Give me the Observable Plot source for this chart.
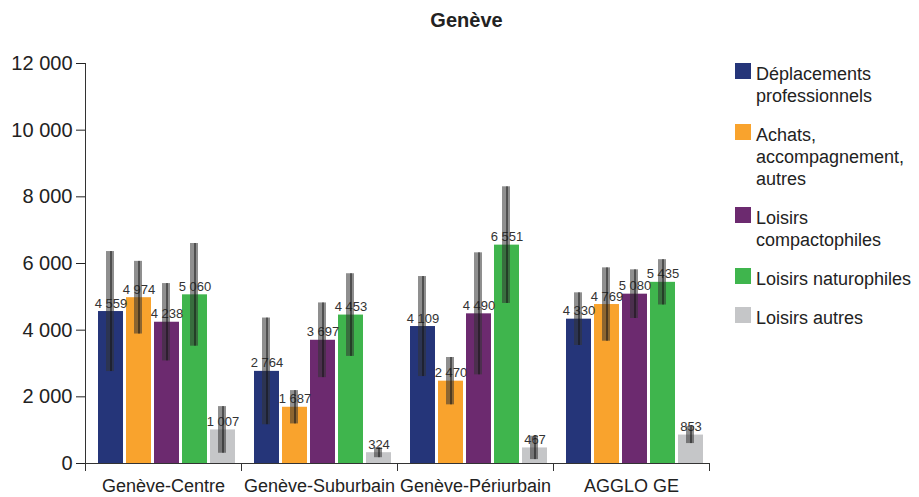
<!DOCTYPE html>
<html lang="fr">
<head>
<meta charset="utf-8">
<script src="https://cdn.jsdelivr.net/npm/d3@7"></script>
<script src="https://cdn.jsdelivr.net/npm/@observablehq/plot@0.6"></script>
<style>
  html, body { margin: 0; padding: 0; background: #fff; }
  body { font-family: "Liberation Sans", Arial, sans-serif; color: #222; }
  #wrap { position: relative; width: 919px; height: 497px; overflow: hidden; }
  #title { position: absolute; top: 10px; left: 7px; width: 919px; text-align: center;
           font-weight: bold; font-size: 20px; line-height: 1; }
  #legend { position: absolute; left: 735px; top: 63px; width: 184px; }
  .item { position: relative; padding-left: 21px; margin-bottom: 17px;
          font-size: 18px; line-height: 22px; white-space: pre-line; }
  .swatch { position: absolute; left: 0; top: 0; width: 16px; height: 16px; }
</style>
</head>
<body>
<div id="wrap">
  <div id="title">Genève</div>
  <div id="legend"></div>
</div>
<script>
// Territoires (groupes de barres)
const groups = ["Genève-Centre", "Genève-Suburbain", "Genève-Périurbain", "AGGLO GE"];

// Motifs de déplacement
const series = [
  "Déplacements professionnels",
  "Achats, accompagnement, autres",
  "Loisirs compactophiles",
  "Loisirs naturophiles",
  "Loisirs autres"
];
const legendLabels = [
  "Déplacements\nprofessionnels",
  "Achats,\naccompagnement,\nautres",
  "Loisirs\ncompactophiles",
  "Loisirs naturophiles",
  "Loisirs autres"
];
const colors = ["#253579", "#f9a32d", "#6c2a6f", "#3fb54d", "#c5c6c8"];

// Valeurs par motif, dans l'ordre des territoires
const valDeplacements = [4559, 2764, 4109, 4330];
const valAchats       = [4974, 1687, 2470, 4769];
const valCompacto     = [4238, 3697, 4490, 5080];
const valNaturo       = [5060, 4453, 6551, 5435];
const valAutres       = [1007, 324, 467, 853];

// Marges d'erreur (±) par motif
const errDeplacements = [1800, 1600, 1500, 790];
const errAchats       = [1090, 500, 710, 1100];
const errCompacto     = [1160, 1120, 1830, 730];
const errNaturo       = [1540, 1240, 1750, 680];
const errAutres       = [700, 150, 350, 255];

const yTicks = [0, 2000, 4000, 6000, 8000, 10000, 12000];

const values = [valDeplacements, valAchats, valCompacto, valNaturo, valAutres];
const errors = [errDeplacements, errAchats, errCompacto, errNaturo, errAutres];

const rows = [];
groups.forEach((g, gi) => {
  series.forEach((s, si) => {
    rows.push({group: g, series: s, value: values[si][gi], err: errors[si][gi]});
  });
});

const fmt = d3.formatLocale({decimal: ",", thousands: "\u00a0", grouping: [3], currency: ["", ""]}).format(",d");

const chart = Plot.plot({
  width: 919,
  height: 497,
  marginTop: 63,
  marginBottom: 34,
  marginLeft: 85,
  marginRight: 210,
  style: {fontFamily: "'Liberation Sans', Arial, sans-serif", color: "#222", background: "transparent"},
  fx: {domain: groups, padding: 0, label: null},
  x: {domain: series, axis: null, round: true, paddingInner: 0.12, paddingOuter: 0.06, insetLeft: 10, insetRight: 3},
  y: {domain: [0, 12000]},
  color: {domain: series, range: colors},
  marks: [
    Plot.axisY(yTicks, {tickSize: 9, tickPadding: 4, fontSize: 20, tickFormat: fmt, label: null}),
    Plot.axisFx({anchor: "bottom", tickSize: 0, tickPadding: 16, fontSize: 18, label: null}),
    Plot.barY(rows, {fx: "group", x: "series", y: "value", fill: "series"}),
    Plot.text(rows, {
      fx: "group", x: "series", y: "value", text: d => fmt(d.value),
      dy: -4, lineAnchor: "bottom", fontSize: 13, fill: "#333"
    }),
    Plot.rectY(rows, {
      fx: "group", x: "series", y1: d => d.value - d.err, y2: d => d.value + d.err,
      fill: "#333", fillOpacity: 0.55, insetLeft: 8, insetRight: 9
    }),
    Plot.ruleX(rows, {
      fx: "group", x: "series", y1: d => d.value - d.err, y2: d => d.value + d.err,
      stroke: "#111", strokeWidth: 1
    }),
    Plot.ruleY([0], {stroke: "#333"}),
    Plot.frame({anchor: "left", facetAnchor: "left", insetBottom: -7, stroke: "#333"}),
    Plot.frame({anchor: "left", insetTop: 400, insetBottom: -7, stroke: "#333"}),
    Plot.frame({anchor: "right", insetTop: 400, insetBottom: -7, stroke: "#333"})
  ]
});

const wrap = document.getElementById("wrap");
chart.style.position = "absolute";
chart.style.left = "0";
chart.style.top = "0";
wrap.insertBefore(chart, wrap.firstChild);

// Légende
const legend = document.getElementById("legend");
legendLabels.forEach((lab, i) => {
  const item = document.createElement("div");
  item.className = "item";
  const sw = document.createElement("span");
  sw.className = "swatch";
  sw.style.background = colors[i];
  item.appendChild(sw);
  item.appendChild(document.createTextNode(lab));
  legend.appendChild(item);
});
</script>
</body>
</html>
